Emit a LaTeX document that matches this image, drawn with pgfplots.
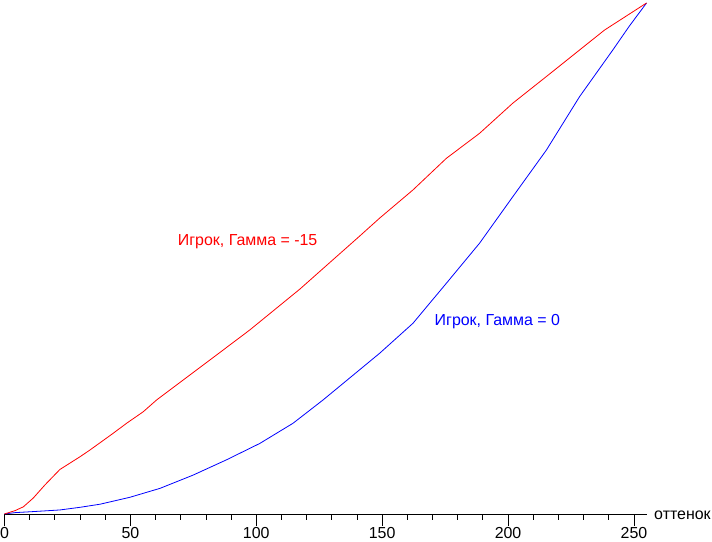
\documentclass[border=0pt]{standalone}
\usepackage{pgfplots}
\pgfplotsset{compat=1.18}
\usepackage{fontspec}
\setmainfont{Liberation Sans}
\begin{document}
\begin{tikzpicture}
\begin{axis}[
  scale only axis,
  width=642.1bp, height=511bp,
  xmin=0, xmax=255, ymin=0, ymax=1,
  axis x line*=bottom,
  axis y line=none,
  xtick={0,50,100,150,200,250},
  minor x tick num=4,
  tick align=outside,
  major tick length=12bp,
  minor tick length=6bp,
  tick style={black, line width=0.8bp},
  axis line style={black, line width=0.8bp},
  ytick=\empty,
  /pgf/number format/assume math mode=true,
  ticklabel style={font=\fontsize{16}{19}\selectfont, inner sep=1bp},
  clip=false,
]
\addplot[blue, line width=0.8bp] coordinates {
(0,0) (4.2,0.0026) (11.4,0.0046) (22,0.0078) (30,0.013) (37.9,0.019) (49.8,0.0326) (61.7,0.050) (74.9,0.076) (88.2,0.106) (101.4,0.138) (114.6,0.1775) (126.5,0.223) (149,0.3145) (162.2,0.373) (175.5,0.4515) (188.7,0.530) (201.9,0.621) (215.2,0.712) (228.4,0.8167) (241.6,0.908) (248.2,0.955) (255,1.0)
};
\addplot[red, line width=0.8bp] coordinates {
(0,0) (4.2,0.0065) (7.5,0.014) (11.4,0.031) (16.1,0.057) (22,0.087) (30,0.112) (33.9,0.125) (43.2,0.158) (48.5,0.1775) (55.1,0.200) (60.4,0.223) (81.5,0.301) (97.4,0.360) (117.3,0.440) (141.1,0.544) (149,0.579) (162.2,0.634) (175.5,0.696) (188.7,0.745) (201.9,0.804) (215.2,0.856) (228.4,0.908) (238.3,0.947) (255,1.0)
};
\node[red, anchor=west, inner sep=0pt, font=\fontsize{16}{19}\selectfont] at (axis cs:68.8,0.532) {Игрок, Гамма = -15};
\node[blue, anchor=west, inner sep=0pt, font=\fontsize{16}{19}\selectfont] at (axis cs:170.8,0.376) {Игрок, Гамма = 0};
\node[black, anchor=west, inner sep=0pt, font=\fontsize{16}{19}\selectfont, xshift=7.5bp] at (axis cs:255,-0.002) {оттенок};
\coordinate (bl) at (axis cs:-1.787,-0.0548);
\coordinate (tr) at (axis cs:281,1.00587);
\end{axis}
\pgfresetboundingbox
\path (bl) rectangle (tr);
\end{tikzpicture}
\end{document}
